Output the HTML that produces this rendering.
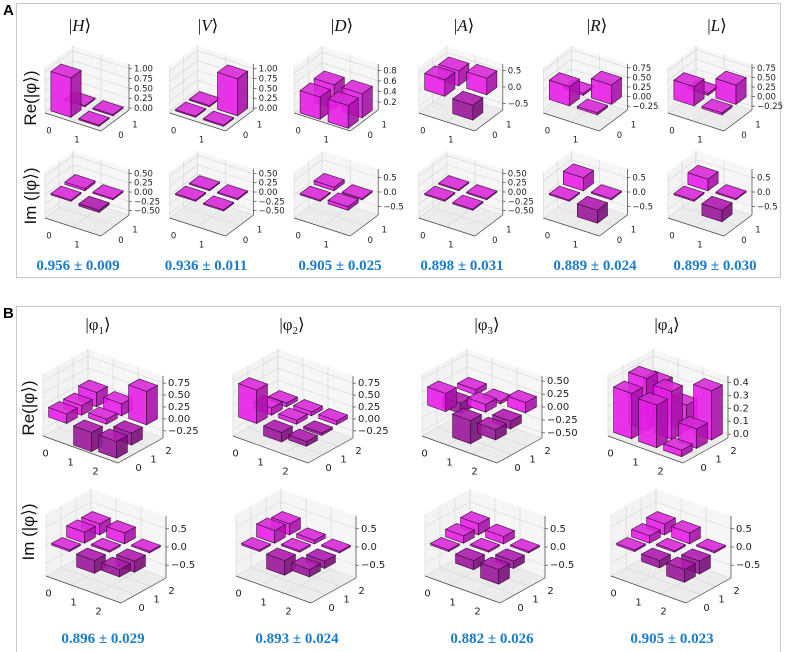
<!DOCTYPE html>
<html><head><meta charset="utf-8">
<style>
html,body{margin:0;padding:0;background:#fff;}
svg{display:block;}
.tk{font-family:"DejaVu Sans","Liberation Sans",sans-serif;font-size:8.5px;fill:#222;}
.tkb{font-family:"DejaVu Sans","Liberation Sans",sans-serif;font-size:10px;fill:#222;}
.ttl{font-family:"Liberation Serif",serif;font-size:17px;fill:#111;}
.fid{font-family:"Liberation Serif",serif;font-size:15px;font-weight:bold;fill:#1a7ccc;}
.rl{font-family:"Liberation Sans",sans-serif;font-size:17px;fill:#111;}
.pl{font-family:"Liberation Sans",sans-serif;font-size:15px;font-weight:bold;fill:#000;}
</style></head>
<body>
<svg id="fig" width="785" height="652" viewBox="0 0 785 652" xmlns="http://www.w3.org/2000/svg">
<rect x="16.5" y="3.5" width="764" height="274" fill="none" stroke="#c8c8c8"/>
<rect x="16.5" y="306.5" width="764" height="350" fill="none" stroke="#c8c8c8"/>
<text class="pl" x="3" y="15">A</text>
<text class="pl" x="3" y="318">B</text>
<text class="rl" transform="translate(36,98) rotate(-90)" text-anchor="middle">Re(|φ⟩)</text>
<text class="rl" transform="translate(36,196) rotate(-90)" text-anchor="middle">Im (|φ⟩)</text>
<text class="rl" transform="translate(34,408) rotate(-90)" text-anchor="middle">Re(|φ⟩)</text>
<text class="rl" transform="translate(34,532) rotate(-90)" text-anchor="middle">Im (|φ⟩)</text>
</svg>
<script>
var titlesA = ["H","V","D","A","R","L"];
var fidelityA = ["0.956 ± 0.009","0.936 ± 0.011","0.905 ± 0.025","0.898 ± 0.031","0.889 ± 0.024","0.899 ± 0.030"];
var reH = [[1.0,0.0],[0.0,0.0]];
var reV = [[0.0,0.0],[0.0,0.94]];
var reD = [[0.47,0.5],[0.48,0.5]];
var reA = [[0.5,0.45],[-0.45,0.5]];
var reR = [[0.5,0.05],[0.05,0.5]];
var reL = [[0.5,0.05],[0.05,0.5]];
var imH = [[0.0,0.06],[-0.06,0.0]];
var imV = [[0.0,0.0],[-0.02,0.0]];
var imD = [[0.0,0.12],[0.12,0.0]];
var imA = [[0.0,0.0],[0.0,0.0]];
var imR = [[0.0,0.45],[-0.45,0.0]];
var imL = [[0.0,0.4],[-0.4,0.0]];
var titlesB = ["1","2","3","4"];
var fidelityB = ["0.896 ± 0.029","0.893 ± 0.024","0.882 ± 0.026","0.905 ± 0.023"];
var re1 = [[0.2,0.2,0.3],[-0.4,0.1,0.25],[-0.35,-0.25,0.7]];
var re2 = [[0.7,0.15,0.08],[-0.2,0.08,0.08],[-0.1,-0.05,0.08]];
var re3 = [[0.35,-0.2,0.1],[-0.45,0.15,0.05],[-0.2,-0.15,0.2]];
var re4 = [[0.35,0.4,0.3],[0.33,0.37,0.2],[0.05,0.15,0.38]];
var im1 = [[0.0,0.3,0.3],[-0.35,0.0,0.3],[-0.2,-0.3,0.0]];
var im2 = [[0.0,0.35,0.3],[-0.4,0.0,0.1],[-0.2,-0.2,0.0]];
var im3 = [[0.0,0.2,0.3],[-0.25,0.0,0.2],[-0.4,-0.2,0.0]];
var im4 = [[0.0,0.2,0.3],[-0.2,0.0,0.3],[-0.35,-0.35,0.0]];
var ticksA1 = [0,0.25,0.5,0.75,1.0];
var ticksA2 = [0.2,0.4,0.6,0.8];
var ticksA3 = [-0.5,0,0.5];
var ticksA4 = [-0.25,0,0.25,0.5,0.75];
var ticksA5 = [-0.5,-0.25,0,0.25,0.5];
var ticksB1 = [-0.25,0,0.25,0.5,0.75];
var ticksB3 = [-0.5,-0.25,0,0.25,0.5];
var ticksB4 = [0,0.1,0.2,0.3,0.4];
var ticksBi = [-0.5,0,0.5];

var NS="http://www.w3.org/2000/svg";
var svg=document.getElementById('fig');
function mk(tag,attrs,parent){var e=document.createElementNS(NS,tag);for(var k in attrs)e.setAttribute(k,attrs[k]);(parent||svg).appendChild(e);return e;}
var GA={ex:[56,18],ey:[28,-21],ez:[0,-46]};
var GB={ex:[75,27],ey:[45,-25],ez:[0,-62]};
function fmt(t,d){return (t<0?"\u2212":"")+Math.abs(t).toFixed(d);}

function plot(name,data,x0,y0,G,zmin,zmax,ticks,dec,big){
  var n=data.length;
  var g=mk('g',{});
  
  
  function P(u,v,z){var w=(z-zmin)/(zmax-zmin);return [x0+u*G.ex[0]+v*G.ey[0]+w*G.ez[0], y0+u*G.ex[1]+v*G.ey[1]+w*G.ez[1]];}
  function poly(pts){return pts.map(function(p){return p[0].toFixed(1)+','+p[1].toFixed(1);}).join(' ');}
  var fl=mk('polygon',{points:poly([P(0,0,zmin),P(1,0,zmin),P(1,1,zmin),P(0,1,zmin)]),fill:'#ececec',stroke:'none'},g);
  
  
  var lw=mk('polygon',{points:poly([P(0,0,zmin),P(0,1,zmin),P(0,1,zmax),P(0,0,zmax)]),fill:'#f3f3f3',stroke:'none'},g);
  
  
  var bw=mk('polygon',{points:poly([P(0,1,zmin),P(1,1,zmin),P(1,1,zmax),P(0,1,zmax)]),fill:'#f6f6f6',stroke:'none'},g);
  
  
  var gl=[];
  for(var k=0;k<=n;k++){var f=k/n;
    gl.push([P(f,0,zmin),P(f,1,zmin)],[P(0,f,zmin),P(1,f,zmin)],[P(0,f,zmin),P(0,f,zmax)],[P(f,1,zmin),P(f,1,zmax)]);}
  ticks.forEach(function(t){gl.push([P(0,0,t),P(0,1,t)],[P(0,1,t),P(1,1,t)]);});
  gl.forEach(function(l){var e=mk('line',{x1:l[0][0],y1:l[0][1],x2:l[1][0],y2:l[1][1],stroke:'#d6d6d6','stroke-width':0.6},g);
    
    });
  [[P(0,0,zmin),P(1,0,zmin)],[P(1,0,zmin),P(1,1,zmin)],[P(1,1,zmin),P(1,1,zmax)]].forEach(function(l){
    var e=mk('line',{x1:l[0][0],y1:l[0][1],x2:l[1][0],y2:l[1][1],stroke:'#444','stroke-width':0.7},g);
    
    });
  var cls=big?'tkb':'tk';
  ticks.forEach(function(t){var p=P(1,1,t);
    var tl=mk('line',{x1:p[0],y1:p[1],x2:p[0]+3,y2:p[1],stroke:'#444','stroke-width':0.7},g);
    
    
    var tx=mk('text',{x:p[0]+5,y:p[1]+3,'class':cls},g);tx.textContent=fmt(t,dec);
    
    });
  for(var i=0;i<n;i++){var p=P((i+0.5)/n,0,zmin);
    var tx=mk('text',{x:p[0]-10,y:p[1]+16,'class':cls,'text-anchor':'middle'},g);tx.textContent=i;
    
    
    var q=P(1,(i+0.5)/n,zmin);
    var ty=mk('text',{x:q[0]+13,y:q[1]+12,'class':cls,'text-anchor':'middle'},g);ty.textContent=i;
    
    }
  var cells=[];for(var i=0;i<n;i++)for(var j=0;j<n;j++)cells.push([i,j]);
  cells.sort(function(a,b){return (a[0]-a[1])-(b[0]-b[1]);});
  var bwid=0.72, thin=0.025*(zmax-zmin);
  cells.forEach(function(c){var i=c[0],j=c[1],val=data[i][j];
    var u0=(i+0.5-bwid/2)/n,u1=(i+0.5+bwid/2)/n,v0=(j+0.5-bwid/2)/n,v1=(j+0.5+bwid/2)/n;
    var zb=Math.min(0,val),zt=Math.max(0,val);
    if(zt-zb<thin){zt=zb+thin;}
    zb=Math.max(zb,zmin);zt=Math.min(zt,zmax);
    var neg=val<-0.02;
    var bg=mk('g',{},g);
    
    
    var faces=[[P(u0,v0,zb),P(u1,v0,zb),P(u1,v0,zt),P(u0,v0,zt)],[P(u1,v0,zb),P(u1,v1,zb),P(u1,v1,zt),P(u1,v0,zt)],[P(u0,v0,zt),P(u1,v0,zt),P(u1,v1,zt),P(u0,v1,zt)]];
    var cols=neg?['#9a189a','#7a0e7a','#b01cb0']:['#e81ee8','#a812a8','#d82ad8'];
    faces.forEach(function(f,k){var e=mk('polygon',{points:poly(f),fill:cols[k],'fill-opacity':0.9,stroke:'#3a0a3a','stroke-width':0.6},bg);
      
      });
  });
}
function label(txt,x,y,cls,nm){var t=mk('text',{x:x,y:y,'class':cls,'text-anchor':'middle'});t.textContent=txt;
  
  return t;}

var reAs=[reH,reV,reD,reA,reR,reL], imAs=[imH,imV,imD,imA,imR,imL];
var reRange=[[-0.05,1.12,ticksA1,2],[-0.05,1.12,ticksA1,2],[0.05,0.92,ticksA2,1],[-0.7,0.7,ticksA3,1],[-0.35,0.85,ticksA4,2],[-0.35,0.85,ticksA4,2]];
var imRange=[[-0.62,0.62,ticksA5,2],[-0.62,0.62,ticksA5,2],[-0.8,0.8,ticksA3,1],[-0.62,0.62,ticksA5,2],[-0.8,0.8,ticksA3,1],[-0.8,0.8,ticksA3,1]];
var titleXA=[80,208,342,464,597,717];
for(var k=0;k<6;k++){var x0=45+124.6*k;
  var t=mk('text',{x:titleXA[k],y:31,'class':'ttl','text-anchor':'middle'});
  
  
  t.innerHTML='|<tspan font-style="italic">'+titlesA[k]+'</tspan>⟩';
  var r=reRange[k];plot('re-plot-'+titlesA[k],reAs[k],x0,113,GA,r[0],r[1],r[2],r[3],false);
  var m=imRange[k];plot('im-plot-'+titlesA[k],imAs[k],x0,218,GA,m[0],m[1],m[2],m[3],false);
  label(fidelityA[k],titleXA[k]-2,270,'fid','fidelity-'+titlesA[k]);
}
var reBs=[re1,re2,re3,re4], imBs=[im1,im2,im3,im4];
var reRB=[[-0.4,0.9,ticksB1,2],[-0.4,0.9,ticksB1,2],[-0.6,0.6,ticksB3,2],[-0.03,0.45,ticksB4,1]];
var titleXB=[98,292,487,667];
var x0B=[43,233,422,608];
for(var k=0;k<4;k++){
  var t=mk('text',{x:titleXB[k],y:330,'class':'ttl','text-anchor':'middle'});
  
  
  t.innerHTML='|φ<tspan font-size="11" dy="4">'+titlesB[k]+'</tspan><tspan dy="-4">⟩</tspan>';
  var r=reRB[k];plot('re-plot-phi'+titlesB[k],reBs[k],x0B[k],436,GB,r[0],r[1],r[2],r[3],true);
  plot('im-plot-phi'+titlesB[k],imBs[k],x0B[k]+3,576,GB,-0.85,0.85,ticksBi,1,true);
  label(fidelityB[k],titleXB[k]+5,643,'fid','fidelity-phi'+titlesB[k]);
}
</script>
</body></html>
